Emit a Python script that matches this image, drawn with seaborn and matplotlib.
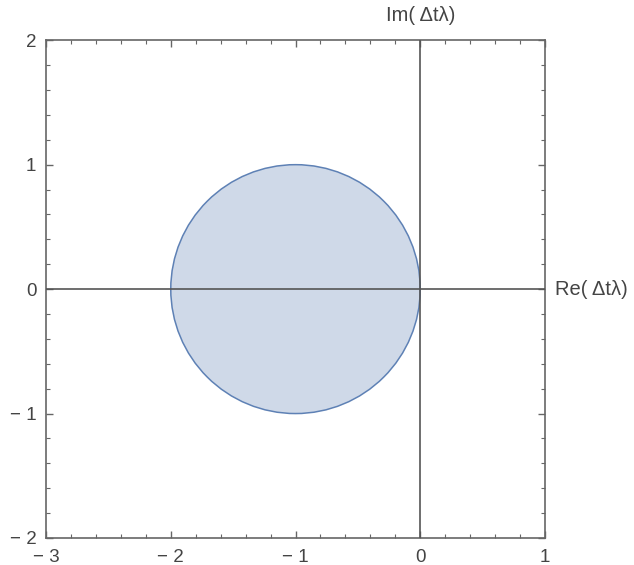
import matplotlib
matplotlib.use("Agg")
import matplotlib.pyplot as plt
from matplotlib.patches import Circle
from matplotlib.ticker import MultipleLocator
import seaborn as sns

# stability region: disk |1 + dt*lambda| <= 1
center_re = [-1.0]
center_im = [0.0]
radius = [1.0]

x_range = [-3, 1]
y_range = [-2, 2]
x_ticks = [-3, -2, -1, 0, 1]
y_ticks = [-2, -1, 0, 1, 2]

sns.set_style("ticks")
plt.rcParams['font.family'] = ['Liberation Sans', 'DejaVu Sans']

fig = plt.figure(figsize=(6.34, 5.65), dpi=100)
ax = fig.add_axes([0.0726, 0.0478, 0.787, 0.881])

disk = Circle((center_re[0], center_im[0]), radius[0],
              facecolor="#cfd9e8", edgecolor="#5e81b5", lw=1.1, zorder=2)
ax.add_patch(disk)

ax.axhline(0, color="#555555", lw=1.2, zorder=3)
ax.axvline(0, color="#555555", lw=1.2, zorder=3)

ax.set_xlim(x_range)
ax.set_ylim(y_range)
ax.set_xticks(x_ticks)
ax.set_yticks(y_ticks)
ax.set_xticklabels([f"\u2212 {abs(v)}" if v < 0 else str(v) for v in x_ticks])
ax.set_yticklabels([f"\u2212 {abs(v)}" if v < 0 else str(v) for v in y_ticks])
ax.xaxis.set_minor_locator(MultipleLocator(0.2))
ax.yaxis.set_minor_locator(MultipleLocator(0.2))
ax.tick_params(which="both", direction="in", top=True, right=True,
               labeltop=False, labelright=False, color="#666666",
               labelcolor="#444444", labelsize=13.5)
ax.tick_params(which="major", length=5, width=1)
ax.tick_params(axis="x", which="major", pad=8)
ax.tick_params(axis="y", which="major", pad=7)
ax.tick_params(which="minor", length=3, width=0.8)
for s in ax.spines.values():
    s.set_color("#666666")
    s.set_linewidth(1.2)

ax.text(1.08, 0, "Re( \u0394t\u03bb)", ha="left", va="center",
        fontsize=14.5, color="#444444", clip_on=False)
ax.text(0, 2.2, "Im( \u0394t\u03bb)", ha="center", va="center",
        fontsize=14.5, color="#444444", clip_on=False)

fig.savefig("out.png", dpi=100)
